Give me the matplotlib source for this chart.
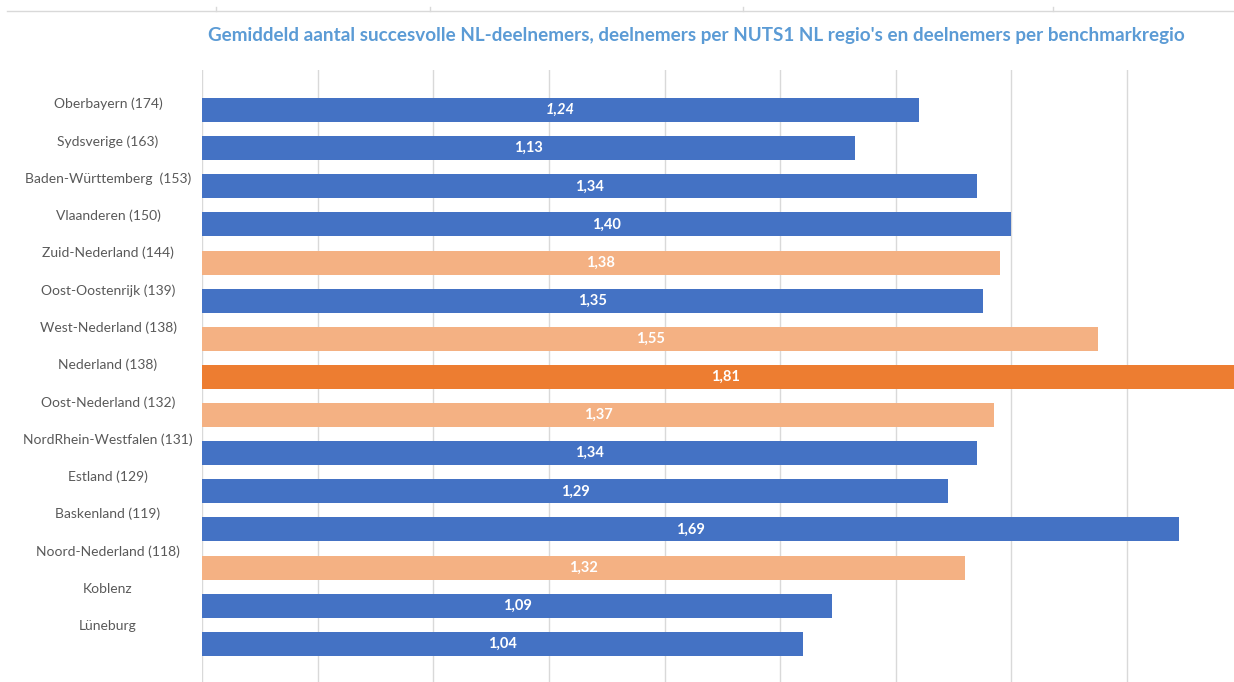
import matplotlib.pyplot as plt
from matplotlib.lines import Line2D

regions = [
    "Oberbayern (174)", "Sydsverige (163)", "Baden-Württemberg  (153)",
    "Vlaanderen (150)", "Zuid-Nederland (144)", "Oost-Oostenrijk (139)",
    "West-Nederland (138)", "Nederland (138)", "Oost-Nederland (132)",
    "NordRhein-Westfalen (131)", "Estland (129)", "Baskenland (119)",
    "Noord-Nederland (118)", "Koblenz", "Lüneburg",
]
values = [1.24, 1.13, 1.34, 1.40, 1.38, 1.35, 1.55, 1.81, 1.37,
          1.34, 1.29, 1.69, 1.32, 1.09, 1.04]
# group: 0 = benchmark region, 1 = NL NUTS1 region, 2 = the Netherlands
groups = [0, 0, 0, 0, 1, 0, 1, 2, 1, 0, 0, 0, 1, 0, 0]

colors = {0: "#4472C4", 1: "#F4B183", 2: "#ED7D31"}
title = ("Gemiddeld aantal succesvolle NL-deelnemers, deelnemers per "
         "NUTS1 NL regio's en deelnemers per benchmarkregio")

W, H = 1234, 682
fig = plt.figure(figsize=(W / 100, H / 100), dpi=100)
plt.rcParams["font.family"] = ["Lato", "DejaVu Sans"]

# plot area in pixels: left 202, right 1234, top 70, bottom 682
ax = fig.add_axes([202 / W, 0, (W - 202) / W, (H - 70) / H])
n = len(values)
pos = list(range(n))
ax.barh(pos, values, height=0.63,
        color=[colors[g] for g in groups], zorder=3)
ax.set_xlim(0, 1.785)
ax.set_ylim(15.0, -1.05)
ax.set_xticks([0.2 * k for k in range(9)])
ax.set_yticks([])
ax.tick_params(axis="x", length=0, labelbottom=False)
ax.grid(axis="x", color="#D9D9D9", linewidth=1, zorder=0)
for s in ax.spines.values():
    s.set_visible(False)

for i, (v, g) in enumerate(zip(values, groups)):
    ax.text(v / 2, i, f"{v:.2f}".replace(".", ","),
            ha="center", va="center", color="white", fontsize=10.5,
            fontweight="bold", fontstyle="italic" if i == 0 else "normal",
            zorder=4)

# category labels
for i, name in enumerate(regions):
    y = 104 + i * 37.29
    fig.text(108 / W, 1 - y / H, name, ha="center", va="center",
             fontsize=10, color="#595959")

fig.text(696 / W, 1 - 36 / H, title, ha="center", va="center",
         fontsize=13.6, fontweight="bold", color="#5B9BD5")

# thin rule along the top edge with small ticks
fig.add_artist(Line2D([7 / W, 1], [1 - 11 / H] * 2, color="#D9D9D9",
                      linewidth=1, transform=fig.transFigure))
for xt in [216, 430, 743, 1053]:
    fig.add_artist(Line2D([xt / W] * 2, [1 - 11 / H, 1 - 7 / H],
                          color="#D9D9D9", linewidth=1,
                          transform=fig.transFigure))

fig.savefig("out.png", dpi=100)
